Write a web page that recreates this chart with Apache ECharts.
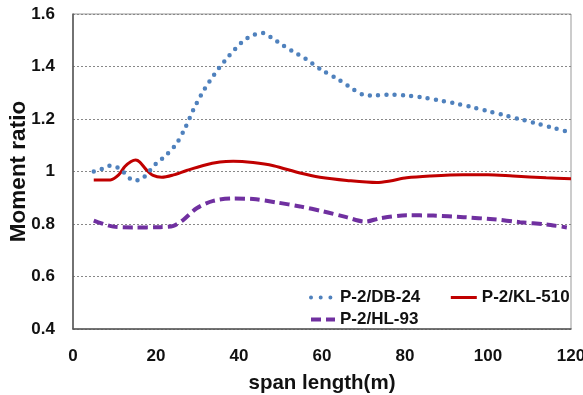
<!DOCTYPE html>
<html><head><meta charset="utf-8">
<script src="https://cdn.jsdelivr.net/npm/echarts@6/dist/echarts.min.js"></script>
<style>html,body{margin:0;padding:0;background:#fff}#c{width:583px;height:395px}</style>
</head><body><div id="c"></div>
<script>
var xTicks = [0, 20, 40, 60, 80, 100, 120];
var yTicks = [0.4, 0.6, 0.8, 1, 1.2, 1.4, 1.6];
var seriesNames = ['P-2/DB-24', 'P-2/KL-510', 'P-2/HL-93'];

var dbX = [5, 7, 9, 11, 13, 14.5, 16.5, 18, 20, 22.5, 25, 27, 29, 31, 33, 35, 37, 39, 41, 43.5, 45.8, 48, 50, 53, 56, 60, 64, 67.6, 70, 72, 76, 80, 84, 88, 92, 96, 100, 104, 108, 112, 116, 120];
var dbY = [1.0, 1.01, 1.022, 1.013, 0.985, 0.966, 0.971, 0.994, 1.03, 1.063, 1.108, 1.165, 1.235, 1.295, 1.346, 1.39, 1.43, 1.465, 1.497, 1.52, 1.528, 1.508, 1.487, 1.457, 1.43, 1.386, 1.35, 1.312, 1.292, 1.289, 1.293, 1.29, 1.283, 1.272, 1.26, 1.246, 1.23, 1.214, 1.198, 1.182, 1.165, 1.148];

var klX = [5, 9, 11, 12.5, 14, 15.1, 16.1, 17.7, 19.3, 21.4, 24.2, 27.4, 31.4, 35.4, 38.6, 43.4, 48.3, 54.7, 59.5, 66, 73.2, 76.4, 80.4, 86, 94, 100, 106, 114, 120];
var klY = [0.968, 0.968, 0.987, 1.019, 1.038, 1.044, 1.036, 1.006, 0.985, 0.978, 0.987, 1.004, 1.023, 1.036, 1.039, 1.034, 1.022, 0.994, 0.978, 0.966, 0.958, 0.964, 0.976, 0.983, 0.988, 0.988, 0.983, 0.976, 0.972];

var hlX = [5, 9.7, 14.5, 21, 24.2, 26.6, 29.8, 33.8, 38.6, 43.4, 49.1, 54.7, 60.3, 65.9, 70.4, 74, 80.4, 86.8, 94.1, 101.3, 107.7, 114.1, 119];
var hlY = [0.813, 0.79, 0.787, 0.788, 0.793, 0.816, 0.86, 0.888, 0.897, 0.895, 0.882, 0.867, 0.848, 0.826, 0.809, 0.822, 0.833, 0.832, 0.826, 0.818, 0.807, 0.798, 0.787];

function pairs(xs, ys) { return xs.map(function (x, i) { return [x, ys[i]]; }); }

var colors = ['#4F81BD', '#C00000', '#7030A0'];
var lineStyles = [
  { color: colors[0], width: 4.5, type: [0, 8.3], cap: 'round' },
  { color: colors[1], width: 3 },
  { color: colors[2], width: 4, type: [10, 5] }
];
var legendLineStyles = [
  { color: colors[0], width: 4, type: [0, 9.7], cap: 'round', dashOffset: -2 },
  { color: colors[1], width: 3 },
  { color: colors[2], width: 4, type: [10, 5] }
];

var chart = echarts.init(document.getElementById('c'), null, { renderer: 'canvas' });
var fontFam = '"Liberation Sans", Arial, sans-serif';
var legendText = { fontFamily: fontFam, fontWeight: 'bold', fontSize: 17, color: '#111' };
function legendItem(i) { return { name: seriesNames[i], lineStyle: legendLineStyles[i] }; }
chart.setOption({
  animation: false,
  backgroundColor: '#fff',
  grid: { left: 73, right: 12, top: 14, bottom: 66, show: true, borderColor: '#999', borderWidth: 1,
    containLabel: false, outerBoundsMode: 'none' },
  xAxis: {
    type: 'value', min: xTicks[0], max: xTicks[xTicks.length - 1], interval: 20,
    name: 'span length(m)', nameLocation: 'middle', nameGap: 44,
    nameTextStyle: { fontFamily: fontFam, fontWeight: 'bold', fontSize: 20.5, color: '#111' },
    axisLine: { show: true, lineStyle: { color: '#555', width: 1.5 } },
    axisTick: { show: false },
    axisLabel: { fontFamily: fontFam, fontWeight: 'bold', fontSize: 17, color: '#111', margin: 19 },
    splitLine: { show: false }
  },
  yAxis: {
    type: 'value', min: yTicks[0], max: yTicks[yTicks.length - 1], interval: 0.2,
    name: 'Moment ratio', nameLocation: 'middle', nameGap: 43, nameRotate: 90, nameMoveOverlap: false,
    nameTextStyle: { fontFamily: fontFam, fontWeight: 'bold', fontSize: 22.5, color: '#111' },
    axisLine: { show: true, lineStyle: { color: '#555', width: 1.5 } },
    axisTick: { show: false },
    axisLabel: { fontFamily: fontFam, fontWeight: 'bold', fontSize: 17, color: '#111', margin: 18,
      formatter: function (v) { return String(Math.round(v * 10) / 10); } },
    splitLine: { show: true, lineStyle: { color: '#888', type: [2, 2], width: 1 } }
  },
  legend: [
    { data: [legendItem(0), legendItem(1)], left: 302, top: 284, itemWidth: 26, itemHeight: 10, itemGap: 29,
      textStyle: legendText, itemStyle: { opacity: 0 } },
    { data: [legendItem(2)], left: 302, top: 306, itemWidth: 26, itemHeight: 10,
      textStyle: legendText, itemStyle: { opacity: 0 } }
  ],
  series: [
    { name: seriesNames[0], type: 'line', smooth: 0.3, showSymbol: false, symbol: 'none', data: pairs(dbX, dbY), z: 3,
      lineStyle: lineStyles[0], itemStyle: { color: colors[0] } },
    { name: seriesNames[1], type: 'line', smooth: 0.3, showSymbol: false, symbol: 'none', data: pairs(klX, klY), z: 2,
      lineStyle: lineStyles[1], itemStyle: { color: colors[1] } },
    { name: seriesNames[2], type: 'line', smooth: 0.3, showSymbol: false, symbol: 'none', data: pairs(hlX, hlY), z: 2,
      lineStyle: lineStyles[2], itemStyle: { color: colors[2] } }
  ]
});
</script></body></html>
